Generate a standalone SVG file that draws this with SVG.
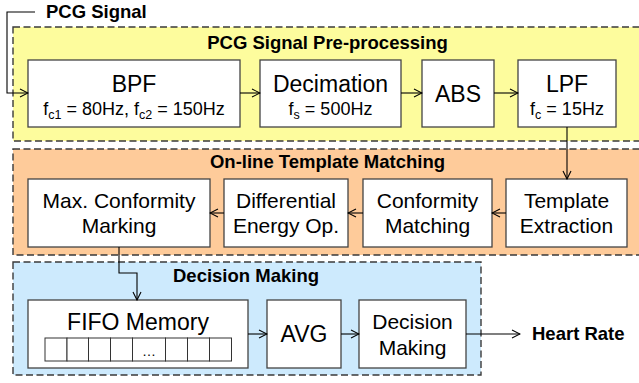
<svg xmlns="http://www.w3.org/2000/svg" width="639" height="383" viewBox="0 0 639 383">
  <style>
    text { font-family: "Liberation Sans", Arial, sans-serif; fill: #000; }
    .stage { stroke: #3a3a3a; stroke-width: 1.4; stroke-dasharray: 7 3.5; }
    .blk { fill: #fff; stroke: #444; stroke-width: 1.3; }
    .cell { fill: #fff; stroke: #333; stroke-width: 1; }
    .title { font-weight: bold; font-size: 18.5px; }
    .big { font-size: 23px; text-anchor: middle; }
    .mid { font-size: 21px; text-anchor: middle; }
    .sub { font-size: 18px; text-anchor: middle; }
    .wire { fill: none; stroke: #000; stroke-width: 1.1; }
  </style>
  <defs>
    <marker id="arr" markerWidth="10" markerHeight="10" refX="9" refY="5" orient="auto" markerUnits="userSpaceOnUse">
      <path d="M1,1 L9,5 L1,9" fill="none" stroke="#000" stroke-width="1.1"/>
    </marker>
  </defs>

  <!-- processing stages -->
  <g id="stage-preprocessing">
    <rect class="stage" x="13" y="27" width="640" height="114" fill="#fdfc9d"/>
    <text class="title" x="327.5" y="48.5" text-anchor="middle">PCG Signal Pre-processing</text>
  </g>
  <g id="stage-matching">
    <rect class="stage" x="13" y="149" width="640" height="106" fill="#fecb9a"/>
    <text class="title" x="327.5" y="168" text-anchor="middle">On-line Template Matching</text>
  </g>
  <g id="stage-decision">
    <rect class="stage" x="13" y="262" width="468" height="113" fill="#cdeafd"/>
    <text class="title" x="246" y="282" text-anchor="middle">Decision Making</text>
  </g>

  <!-- input / output labels -->
  <g id="label-input">
    <text class="title" x="46" y="17.5">PCG Signal</text>
  </g>
  <g id="label-output">
    <text class="title" x="532" y="340">Heart Rate</text>
  </g>

  <!-- row 1 -->
  <g id="bpf">
    <rect class="blk" x="28" y="60" width="212" height="67"/>
    <text class="big" x="134" y="91.5">BPF</text>
    <text class="sub" x="134" y="115">f<tspan font-size="12.5" dy="4">c1</tspan><tspan dy="-4"> = 80Hz, f</tspan><tspan font-size="12.5" dy="4">c2</tspan><tspan dy="-4"> = 150Hz</tspan></text>
  </g>
  <g id="decimation">
    <rect class="blk" x="260" y="60" width="141" height="67"/>
    <text class="big" x="330.5" y="91.5">Decimation</text>
    <text class="sub" x="330.5" y="115">f<tspan font-size="12.5" dy="4">s</tspan><tspan dy="-4"> = 500Hz</tspan></text>
  </g>
  <g id="abs">
    <rect class="blk" x="422" y="60" width="72" height="67"/>
    <text class="big" x="458" y="101.5">ABS</text>
  </g>
  <g id="lpf">
    <rect class="blk" x="518" y="60" width="98" height="67"/>
    <text class="big" x="567" y="91.5">LPF</text>
    <text class="sub" x="567" y="115">f<tspan font-size="12.5" dy="4">c</tspan><tspan dy="-4"> = 15Hz</tspan></text>
  </g>

  <!-- row 2 -->
  <g id="max-conformity">
    <rect class="blk" x="28" y="179" width="182" height="68"/>
    <text class="mid" x="119" y="208">Max. Conformity</text>
    <text class="mid" x="119" y="233">Marking</text>
  </g>
  <g id="differential-energy">
    <rect class="blk" x="224" y="179" width="124" height="68"/>
    <text class="mid" x="286" y="208">Differential</text>
    <text class="mid" x="286" y="233">Energy Op.</text>
  </g>
  <g id="conformity-matching">
    <rect class="blk" x="363" y="179" width="129" height="68"/>
    <text class="mid" x="427.5" y="208">Conformity</text>
    <text class="mid" x="427.5" y="233">Matching</text>
  </g>
  <g id="template-extraction">
    <rect class="blk" x="506" y="179" width="121" height="68"/>
    <text class="mid" x="566.5" y="208">Template</text>
    <text class="mid" x="566.5" y="233">Extraction</text>
  </g>

  <!-- row 3 -->
  <g id="fifo">
    <rect class="blk" x="28" y="300" width="220" height="68"/>
    <text class="big" x="138" y="330">FIFO Memory</text>
    <rect class="cell" x="45" y="338" width="22" height="23"/>
    <rect class="cell" x="67" y="338" width="21.5" height="23"/>
    <rect class="cell" x="88.5" y="338" width="22" height="23"/>
    <rect class="cell" x="110.5" y="338" width="22" height="23"/>
    <rect class="cell" x="132.5" y="338" width="33" height="23"/>
    <rect class="cell" x="165.5" y="338" width="22" height="23"/>
    <rect class="cell" x="187.5" y="338" width="22" height="23"/>
    <rect class="cell" x="209.5" y="338" width="22" height="23"/>
    <text x="149" y="356" font-size="14" text-anchor="middle">…</text>
  </g>
  <g id="avg">
    <rect class="blk" x="267" y="300" width="74" height="68"/>
    <text class="big" x="304" y="342">AVG</text>
  </g>
  <g id="decision">
    <rect class="blk" x="359" y="300" width="107" height="68"/>
    <text class="mid" x="412.5" y="329">Decision</text>
    <text class="mid" x="412.5" y="355">Making</text>
  </g>

  <!-- connectors -->
  <g id="connectors">
    <path class="wire" d="M35,12 H7 V93 H28" marker-end="url(#arr)"/>
    <path class="wire" d="M240,93 H260" marker-end="url(#arr)"/>
    <path class="wire" d="M401,93 H422" marker-end="url(#arr)"/>
    <path class="wire" d="M494,93 H518" marker-end="url(#arr)"/>
    <path class="wire" d="M567,127 V179" marker-end="url(#arr)"/>
    <path class="wire" d="M506,213 H492" marker-end="url(#arr)"/>
    <path class="wire" d="M363,213 H348" marker-end="url(#arr)"/>
    <path class="wire" d="M224,213 H210" marker-end="url(#arr)"/>
    <path class="wire" d="M119,247 V273 H137 V300" marker-end="url(#arr)"/>
    <path class="wire" d="M248,334 H267" marker-end="url(#arr)"/>
    <path class="wire" d="M341,334 H359" marker-end="url(#arr)"/>
    <path class="wire" d="M466,334 H520" marker-end="url(#arr)"/>
  </g>
</svg>
